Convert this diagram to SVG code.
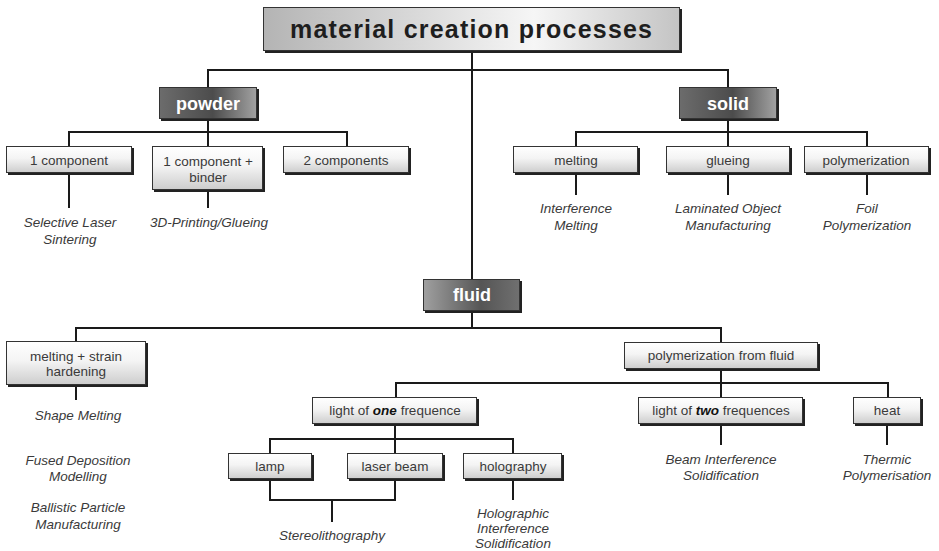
<svg xmlns="http://www.w3.org/2000/svg" width="939" height="551" viewBox="0 0 939 551">
  <defs>
    <linearGradient id="gTitle" x1="0" y1="0" x2="1" y2="0">
      <stop offset="0" stop-color="#b4b4b4"/>
      <stop offset="0.65" stop-color="#f6f6f6"/>
      <stop offset="1" stop-color="#c4c4c4"/>
    </linearGradient>
    <linearGradient id="gDark" x1="0" y1="0" x2="1" y2="0">
      <stop offset="0" stop-color="#6c6c6c"/>
      <stop offset="0.55" stop-color="#4c4c4c"/>
      <stop offset="1" stop-color="#a2a2a2"/>
    </linearGradient>
    <linearGradient id="gFluid" x1="0" y1="0" x2="1" y2="0">
      <stop offset="0" stop-color="#a0a0a0"/>
      <stop offset="0.6" stop-color="#555555"/>
      <stop offset="1" stop-color="#707070"/>
    </linearGradient>
    <linearGradient id="gLight" x1="0" y1="0" x2="0" y2="1">
      <stop offset="0" stop-color="#ffffff"/>
      <stop offset="0.45" stop-color="#f4f4f4"/>
      <stop offset="1" stop-color="#cdcdcd"/>
    </linearGradient>
  </defs>
  <style>
    .shadow { fill: #222222; }
    .box { fill: url(#gLight); stroke: #333333; stroke-width: 1; }
    .dark { fill: url(#gDark); stroke: #333333; stroke-width: 1; }
    .fluid { fill: url(#gFluid); stroke: #333333; stroke-width: 1; }
    .title { fill: url(#gTitle); stroke: #333333; stroke-width: 1; }
    .lbl { font-family: "Liberation Sans", Arial, sans-serif; font-size: 13.5px; fill: #3a3a3a; text-anchor: middle; }
    .dlbl { font-family: "Liberation Sans", Arial, sans-serif; font-size: 18px; font-weight: bold; fill: #ffffff; text-anchor: middle; }
    .tlbl { font-family: "Liberation Sans", Arial, sans-serif; font-size: 25px; font-weight: bold; fill: #1e1e1e; text-anchor: middle; }
    .proc { font-family: "Liberation Sans", Arial, sans-serif; font-size: 13.5px; font-style: italic; fill: #3a3a3a; text-anchor: middle; }
    .em { font-weight: bold; font-style: italic; fill: #111111; }
    .conn { fill: none; stroke: #1a1a1a; stroke-width: 2; }
  </style>

  <!-- connectors -->
  <g id="connectors" class="conn">
    <!-- root to categories -->
    <path d="M472,51 V279"/>
    <path d="M208,87 V70 H728 V87"/>
    <!-- powder -->
    <path d="M208,119 V146"/>
    <path d="M69,146 V132 H347 V146"/>
    <path d="M69,173 V208"/>
    <path d="M208,190 V208"/>
    <!-- solid -->
    <path d="M728,119 V146"/>
    <path d="M576,146 V132 H867 V146"/>
    <path d="M576,173 V195"/>
    <path d="M728,173 V195"/>
    <path d="M867,173 V195"/>
    <!-- fluid -->
    <path d="M472,311 V328"/>
    <path d="M76,341 V328 H721 V342"/>
    <path d="M76,385 V400"/>
    <path d="M721,369 V383"/>
    <path d="M396,397 V383 H888 V397"/>
    <path d="M721,383 V397"/>
    <!-- light of one frequence -->
    <path d="M395,424 V453"/>
    <path d="M270,453 V439 H513 V453"/>
    <path d="M270,479 V500 H395 V479"/>
    <path d="M332,500 V522"/>
    <path d="M513,479 V500"/>
    <!-- two frequences / heat -->
    <path d="M721,424 V445"/>
    <path d="M887,424 V445"/>
  </g>

  <!-- root -->
  <g id="n-root">
    <rect class="shadow" x="265" y="9" width="417" height="44"/>
    <rect class="title" x="263.5" y="7.5" width="416" height="43"/>
    <text class="tlbl" x="471" y="38" textLength="362" lengthAdjust="spacing">material creation processes</text>
  </g>

  <!-- powder branch -->
  <g id="n-powder">
    <rect class="shadow" x="161" y="89" width="98" height="32"/>
    <rect class="dark" x="159.5" y="87.5" width="97" height="31"/>
    <text class="dlbl" x="208" y="110">powder</text>
  </g>
  <g id="n-one-component">
    <rect class="shadow" x="8" y="148" width="126" height="27"/>
    <rect class="box" x="6.5" y="146.5" width="125" height="26"/>
    <text class="lbl" x="69" y="164.5">1 component</text>
  </g>
  <g id="n-binder">
    <rect class="shadow" x="154" y="148" width="111" height="44"/>
    <rect class="box" x="152.5" y="146.5" width="110" height="43"/>
    <text class="lbl" x="208" y="166">1 component +</text>
    <text class="lbl" x="208" y="182">binder</text>
  </g>
  <g id="n-two-components">
    <rect class="shadow" x="285" y="148" width="126" height="27"/>
    <rect class="box" x="283.5" y="146.5" width="125" height="26"/>
    <text class="lbl" x="346" y="164.5">2 components</text>
  </g>
  <g id="p-sls">
    <text class="proc" x="70" y="227">Selective Laser</text>
    <text class="proc" x="70" y="244">Sintering</text>
  </g>
  <g id="p-3dp">
    <text class="proc" x="209" y="227">3D-Printing/Glueing</text>
  </g>

  <!-- solid branch -->
  <g id="n-solid">
    <rect class="shadow" x="681" y="89" width="98" height="32"/>
    <rect class="dark" x="679.5" y="87.5" width="97" height="31"/>
    <text class="dlbl" x="728" y="110">solid</text>
  </g>
  <g id="n-melting">
    <rect class="shadow" x="515" y="148" width="125" height="27"/>
    <rect class="box" x="513.5" y="146.5" width="124" height="26"/>
    <text class="lbl" x="576" y="164.5">melting</text>
  </g>
  <g id="n-glueing">
    <rect class="shadow" x="668" y="148" width="124" height="27"/>
    <rect class="box" x="666.5" y="146.5" width="123" height="26"/>
    <text class="lbl" x="728" y="164.5">glueing</text>
  </g>
  <g id="n-polymerization">
    <rect class="shadow" x="806" y="148" width="125" height="27"/>
    <rect class="box" x="804.5" y="146.5" width="124" height="26"/>
    <text class="lbl" x="866" y="164.5">polymerization</text>
  </g>
  <g id="p-im">
    <text class="proc" x="576" y="213">Interference</text>
    <text class="proc" x="576" y="230">Melting</text>
  </g>
  <g id="p-lom">
    <text class="proc" x="728" y="213">Laminated Object</text>
    <text class="proc" x="728" y="230">Manufacturing</text>
  </g>
  <g id="p-fp">
    <text class="proc" x="867" y="213">Foil</text>
    <text class="proc" x="867" y="230">Polymerization</text>
  </g>

  <!-- fluid branch -->
  <g id="n-fluid">
    <rect class="shadow" x="425" y="281" width="97" height="32"/>
    <rect class="fluid" x="423.5" y="279.5" width="96" height="31"/>
    <text class="dlbl" x="472" y="301">fluid</text>
  </g>
  <g id="n-strain">
    <rect class="shadow" x="8" y="343" width="140" height="44"/>
    <rect class="box" x="6.5" y="341.5" width="139" height="43"/>
    <text class="lbl" x="76" y="361">melting + strain</text>
    <text class="lbl" x="76" y="376">hardening</text>
  </g>
  <g id="p-strain">
    <text class="proc" x="78" y="420">Shape Melting</text>
    <text class="proc" x="78" y="465">Fused Deposition</text>
    <text class="proc" x="78" y="481">Modelling</text>
    <text class="proc" x="78" y="512">Ballistic Particle</text>
    <text class="proc" x="78" y="529">Manufacturing</text>
  </g>
  <g id="n-poly-fluid">
    <rect class="shadow" x="626" y="344" width="194" height="27"/>
    <rect class="box" x="624.5" y="342.5" width="193" height="26"/>
    <text class="lbl" x="721" y="360">polymerization from fluid</text>
  </g>
  <g id="n-one-freq">
    <rect class="shadow" x="314" y="399" width="165" height="27"/>
    <rect class="box" x="312.5" y="397.5" width="164" height="26"/>
    <text class="lbl" x="395" y="415">light of <tspan class="em">one</tspan> frequence</text>
  </g>
  <g id="n-two-freq">
    <rect class="shadow" x="640" y="399" width="165" height="27"/>
    <rect class="box" x="638.5" y="397.5" width="164" height="26"/>
    <text class="lbl" x="721" y="415">light of <tspan class="em">two</tspan> frequences</text>
  </g>
  <g id="n-heat">
    <rect class="shadow" x="855" y="399" width="68" height="27"/>
    <rect class="box" x="853.5" y="397.5" width="67" height="26"/>
    <text class="lbl" x="887" y="415">heat</text>
  </g>
  <g id="n-lamp">
    <rect class="shadow" x="230" y="455" width="84" height="26"/>
    <rect class="box" x="228.5" y="453.5" width="83" height="25"/>
    <text class="lbl" x="270" y="471">lamp</text>
  </g>
  <g id="n-laser">
    <rect class="shadow" x="349" y="455" width="96" height="26"/>
    <rect class="box" x="347.5" y="453.5" width="95" height="25"/>
    <text class="lbl" x="395" y="471">laser beam</text>
  </g>
  <g id="n-holography">
    <rect class="shadow" x="465" y="455" width="99" height="26"/>
    <rect class="box" x="463.5" y="453.5" width="98" height="25"/>
    <text class="lbl" x="513" y="471">holography</text>
  </g>
  <g id="p-sla">
    <text class="proc" x="332" y="540">Stereolithography</text>
  </g>
  <g id="p-his">
    <text class="proc" x="513" y="518">Holographic</text>
    <text class="proc" x="513" y="533">Interference</text>
    <text class="proc" x="513" y="548">Solidification</text>
  </g>
  <g id="p-bis">
    <text class="proc" x="721" y="464">Beam Interference</text>
    <text class="proc" x="721" y="480">Solidification</text>
  </g>
  <g id="p-tp">
    <text class="proc" x="887" y="464">Thermic</text>
    <text class="proc" x="887" y="480">Polymerisation</text>
  </g>
</svg>
